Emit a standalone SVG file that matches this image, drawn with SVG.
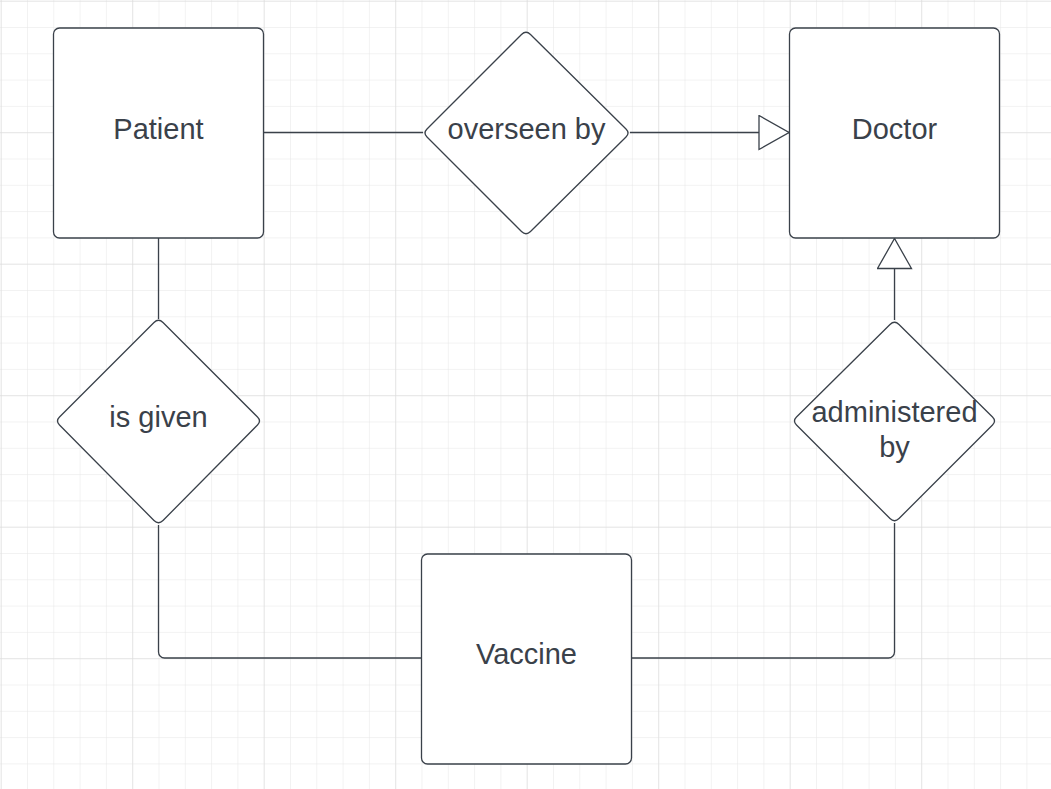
<svg xmlns="http://www.w3.org/2000/svg" width="1051" height="789" viewBox="0 0 1051 789">
<defs>
<pattern id="minor" x="0.7" y="0.7" width="26.3" height="26.3" patternUnits="userSpaceOnUse">
<path d="M26.3 0H0V26.3" fill="none" stroke="#e6e6e6" stroke-width="1"/>
</pattern>
<pattern id="major" x="0.7" y="0.7" width="131.5" height="131.5" patternUnits="userSpaceOnUse">
<path d="M131.5 0H0V131.5" fill="none" stroke="#d9d9d9" stroke-width="1"/>
</pattern>
<marker id="tri" viewBox="0 0 32 36" refX="31" refY="18" markerWidth="32" markerHeight="36" markerUnits="userSpaceOnUse" orient="auto">
<path d="M1 1L31 18L1 35Z" fill="#ffffff" stroke="#3a414a" stroke-width="1.3"/>
</marker>
</defs>
<style>
.shape{fill:#ffffff;stroke:#3a414a;stroke-width:1.3;stroke-linejoin:round}
.lbl{font-family:"Liberation Sans",Arial,sans-serif;font-size:29px;fill:#3a414a;text-anchor:middle}
.conn{fill:none;stroke:#3a414a;stroke-width:1.3}
</style>
<rect width="1051" height="789" fill="#ffffff"/>
<rect width="1051" height="789" fill="url(#minor)"/>
<rect width="1051" height="789" fill="url(#major)"/>
<g id="connectors">
<path class="conn" d="M264 132.5H423"/>
<path class="conn" d="M630 132.5H789" marker-end="url(#tri)"/>
<path class="conn" d="M158.5 238V319"/>
<path class="conn" d="M894.5 320V238.5" marker-end="url(#tri)"/>
<path class="conn" d="M158.5 525V652a6 6 0 0 0 6 6H421"/>
<path class="conn" d="M632 658H888.5a6 6 0 0 0 6-6V523"/>
</g>
<g id="patient">
<rect class="shape" x="53.5" y="28" width="210" height="210" rx="6"/>
<text class="lbl" x="158.5" y="138.5">Patient</text>
</g>
<g id="doctor">
<rect class="shape" x="789.5" y="28" width="210" height="210" rx="6"/>
<text class="lbl" x="894.5" y="138.5">Doctor</text>
</g>
<g id="vaccine">
<rect class="shape" x="421.5" y="554" width="210" height="210" rx="6"/>
<text class="lbl" x="526.5" y="664">Vaccine</text>
</g>
<g id="overseen-by">
<path class="shape" d="M521.5 34.5Q526 30 530.5 34.5L626 129Q630 133 626 137L530.5 231.5Q526 236 521.5 231.5L427 137Q423 133 427 129Z"/>
<text class="lbl" x="526.5" y="138.5">overseen by</text>
</g>
<g id="is-given">
<path class="shape" d="M154 322.5Q158.5 318 163 322.5L257.5 417Q261.5 421 257.5 425L163 520.5Q158.5 525 154 520.5L59.5 425Q55.5 421 59.5 417Z"/>
<text class="lbl" x="158.5" y="427">is given</text>
</g>
<g id="administered-by">
<path class="shape" d="M890 324.5Q894.5 320 899 324.5L992.5 417Q996.5 421 992.5 425L899 518.5Q894.5 523 890 518.5L796.5 425Q792.5 421 796.5 417Z"/>
<text class="lbl" x="894.5" y="421.5">administered</text>
<text class="lbl" x="894.5" y="456.5">by</text>
</g>
</svg>
